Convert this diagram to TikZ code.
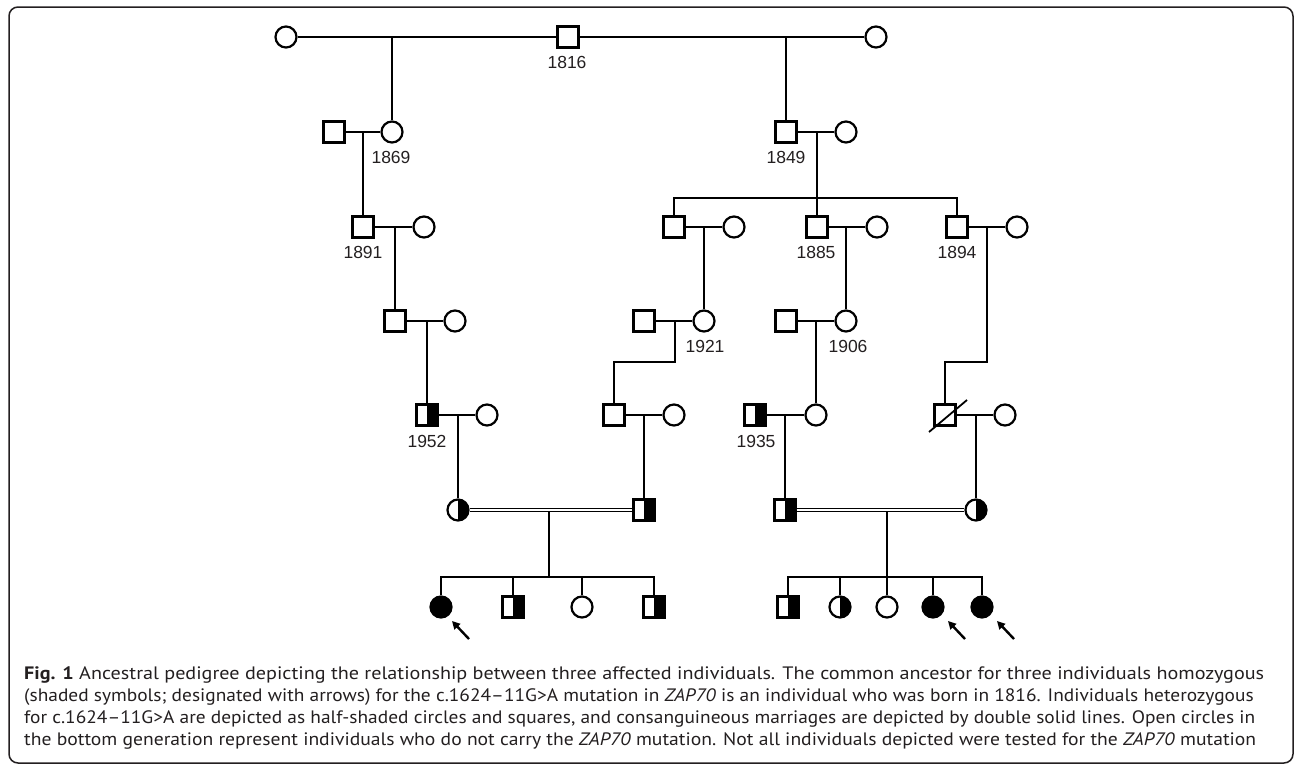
\documentclass[tikz,border=0pt]{standalone}
\usepackage{fontspec}
\usepackage{graphicx}
\setmainfont{Liberation Sans}
\newfontfamily\capfont{PT Sans}
\usetikzlibrary{arrows.meta}
\definecolor{ink}{HTML}{231F20}
\newlength\capwa
\newlength\capwc
\newlength\capwd
\newcommand\capsize{\capfont\fontsize{18}{21}\selectfont}
\newcommand\capLa{{\bfseries Fig. 1} Ancestral pedigree depicting the relationship between three affected individuals. The common ancestor for three individuals homozygous}
\newcommand\capLb{(shaded symbols; designated with arrows) for the c.1624–11G>A mutation in \textit{ZAP70} is an individual who was born in 1816. Individuals heterozygous}
\newcommand\capLc{for c.1624–11G>A are depicted as half-shaded circles and squares, and consanguineous marriages are depicted by double solid lines. Open circles in}
\newcommand\capLd{the bottom generation represent individuals who do not carry the \textit{ZAP70} mutation. Not all individuals depicted were tested for the \textit{ZAP70} mutation}
\tikzset{
  sym/.style={draw=black, line width=2.2pt, fill=white, inner sep=0pt, minimum size=21pt},
  male/.style={sym, rectangle},
  female/.style={sym, circle},
  het/.style={path picture={\fill[black] (path picture bounding box.north) rectangle (path picture bounding box.south east);}},
  aff/.style={fill=black},
  conn/.style={line width=2.5pt},
  dbl/.style={double=white, line width=1.3pt, double distance=2.2pt},
  yr/.style={font=\fontsize{17.5}{20}\selectfont, text=ink, inner sep=0pt},
  arr/.style={line width=2.4pt, -{Triangle[length=8pt,width=8pt]}},
  capline/.style={anchor=base west, inner sep=0pt, text=ink, font=\capsize},
}
\begin{document}
\settowidth{\capwa}{\capsize\capLa}%
\settowidth{\capwc}{\capsize\capLc}%
\settowidth{\capwd}{\capsize\capLd}%
\pgfmathsetmacro\capsa{1240/\capwa}%
\pgfmathsetmacro\capsc{1231/\capwc}%
\pgfmathsetmacro\capsd{1232/\capwd}%
\begin{tikzpicture}[x=1pt,y=-1pt]
\useasboundingbox (0,0) rectangle (1296,766);
\draw[rounded corners=9pt, line width=1.5pt, ink] (9,7) rectangle (1293,763);

% ---------- coordinates (marriage midpoints, sibship points) ----------
\coordinate (m1) at (392,37);  \coordinate (m2) at (786,37);
\coordinate (m3) at (363,132); \coordinate (m4) at (817,132);
\coordinate (sb1) at (817,198);
\coordinate (m5) at (395,227); \coordinate (m6) at (704,227);
\coordinate (m7) at (846,227); \coordinate (m8) at (987,227);
\coordinate (m9) at (427,321); \coordinate (m10) at (675,321); \coordinate (m11) at (816,321);
\coordinate (k1) at (614,362); \coordinate (k2) at (945,362);
\coordinate (m12) at (458,415); \coordinate (m13) at (644,415);
\coordinate (m14) at (785,415); \coordinate (m15) at (976,415);
\coordinate (m16) at (549,511); \coordinate (m17) at (887,511);
\coordinate (sb2) at (549,577); \coordinate (sb3) at (887,577);

% ---------- Generation I ----------
\node[female] (c1) at (286,37) {};
\node[male] (s1816) at (568,37) {};
\node[female] (c2) at (876,37) {};
% ---------- Generation II ----------
\node[male] (s2a) at (334,132) {};
\node[female] (c1869) at (392,132) {};
\node[male] (s1849) at (786,132) {};
\node[female] (c2b) at (846,132) {};
% ---------- Generation III ----------
\node[male] (s1891) at (363,227) {};
\node[female] (c3a) at (424,227) {};
\node[male] (s3a) at (674,227) {};
\node[female] (c3b) at (734,227) {};
\node[male] (s1885) at (817,227) {};
\node[female] (c3c) at (877,227) {};
\node[male] (s1894) at (957,227) {};
\node[female] (c3d) at (1017,227) {};
% ---------- Generation IV ----------
\node[male] (s4a) at (395,321) {};
\node[female] (c4a) at (455,321) {};
\node[male] (s4b) at (644,321) {};
\node[female] (c1921) at (704,321) {};
\node[male] (s4c) at (786,321) {};
\node[female] (c1906) at (846,321) {};
% ---------- Generation V ----------
\node[male,het] (s1952) at (427,415) {};
\node[female] (c5a) at (487,415) {};
\node[male] (s5b) at (614,415) {};
\node[female] (c5b) at (674,415) {};
\node[male,het] (s1935) at (755,415) {};
\node[female] (c5c) at (816,415) {};
\node[male] (s5d) at (945,415) {};
\node[female] (c5d) at (1005,415) {};
% ---------- Generation VI ----------
\node[female,het] (c6a) at (458,510) {};
\node[male,het] (s6b) at (644,510) {};
\node[male,het] (s6c) at (785,510) {};
\node[female,het] (c6d) at (976,510) {};
% ---------- Generation VII ----------
\node[female,aff] (c7a) at (441,607) {};
\node[male,het] (s7b) at (513,607) {};
\node[female] (c7c) at (582,607) {};
\node[male,het] (s7d) at (654,607) {};
\node[male,het] (s7e) at (788,607) {};
\node[female,het] (c7f) at (840,607) {};
\node[female] (c7g) at (887,607) {};
\node[female,aff] (c7h) at (933,607) {};
\node[female,aff] (c7i) at (982,607) {};

% ---------- connectors ----------
\begin{scope}[conn]
\draw (c1.east) -- (s1816.west);
\draw (s1816.east) -- (c2.west);
\draw (m1) -- (c1869.north);
\draw (m2) -- (s1849.north);
\draw (s2a.east) -- (c1869.west);
\draw (s1849.east) -- (c2b.west);
\draw (m3) -- (s1891.north);
\draw (m4) -- (s1885.north);
\draw (s3a.north) |- (sb1) -| (s1894.north);
\draw (s1891.east) -- (c3a.west);
\draw (s3a.east) -- (c3b.west);
\draw (s1885.east) -- (c3c.west);
\draw (s1894.east) -- (c3d.west);
\draw (m5) -- (s4a.north);
\draw (m6) -- (c1921.north);
\draw (m7) -- (c1906.north);
\draw (m8) |- (k2) -- (s5d.north);
\draw (s4a.east) -- (c4a.west);
\draw (s4b.east) -- (c1921.west);
\draw (s4c.east) -- (c1906.west);
\draw (m9) -- (s1952.north);
\draw (m10) |- (k1) -- (s5b.north);
\draw (m11) -- (c5c.north);
\draw (s1952.east) -- (c5a.west);
\draw (s5b.east) -- (c5b.west);
\draw (s1935.east) -- (c5c.west);
\draw (s5d.east) -- (c5d.west);
\draw (m12) -- (c6a.north);
\draw (m13) -- (s6b.north);
\draw (m14) -- (s6c.north);
\draw (m15) -- (c6d.north);
\draw (m16) -- (sb2);
\draw (m17) -- (sb3);
\draw (c7a.north) |- (sb2) -| (s7d.north);
\draw (s7b.north) |- (sb2);
\draw (c7c.north) |- (sb2);
\draw (s7e.north) |- (sb3) -| (c7i.north);
\draw (c7f.north) |- (sb3);
\draw (c7g.north) |- (sb3);
\draw (c7h.north) |- (sb3);
\end{scope}
\draw[dbl] (c6a.east) -- (s6b.west);
\draw[dbl] (s6c.east) -- (c6d.west);

% deceased slash
\coordinate (ds1) at (929,432); \coordinate (ds2) at (967,400);
\draw[line width=1.8pt] (ds1) -- (ds2);

% arrows to affected individuals
\coordinate (a1t) at (469,639); \coordinate (a1h) at (452,621);
\coordinate (a2t) at (965,639); \coordinate (a2h) at (948,621);
\coordinate (a3t) at (1014,639); \coordinate (a3h) at (997,621);
\draw[arr] (a1t) -- (a1h);
\draw[arr] (a2t) -- (a2h);
\draw[arr] (a3t) -- (a3h);

% year labels
\node[yr] (l1816) at (567,62) {1816};
\node[yr] (l1869) at (391,157) {1869};
\node[yr] (l1849) at (786,157) {1849};
\node[yr] (l1891) at (363,252) {1891};
\node[yr] (l1885) at (816,252) {1885};
\node[yr] (l1894) at (957,252) {1894};
\node[yr] (l1921) at (705,346) {1921};
\node[yr] (l1906) at (848,346) {1906};
\node[yr] (l1952) at (427,441) {1952};
\node[yr] (l1935) at (756,441) {1935};

% caption
\node[capline] (cap1) at (24,679) {\scalebox{\capsa}[1]{\capLa}};
\node[capline] (cap2) at (24,701) {\scalebox{\capsc}[1]{\capLb}};
\node[capline] (cap3) at (24,723) {\scalebox{\capsc}[1]{\capLc}};
\node[capline] (cap4) at (24,745) {\scalebox{\capsd}[1]{\capLd}};
\end{tikzpicture}
\end{document}
